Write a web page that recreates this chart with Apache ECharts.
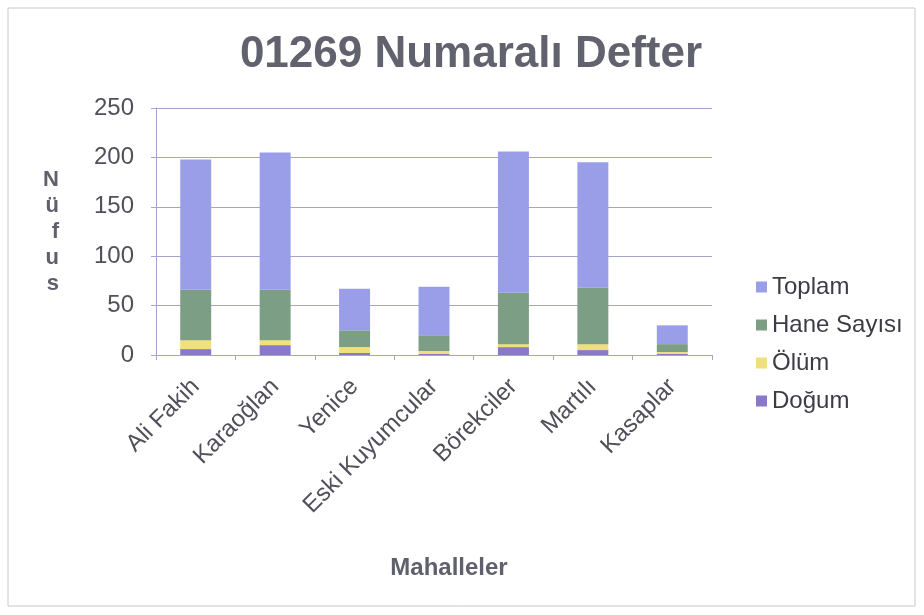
<!DOCTYPE html>
<html>
<head>
<meta charset="utf-8">
<script src="https://cdn.jsdelivr.net/npm/echarts@6/dist/echarts.min.js"></script>
<style>
  html, body { margin: 0; padding: 0; background: #fff; }
  #chart { width: 924px; height: 615px; }
</style>
</head>
<body>
<div id="chart"></div>
<script>
// Mahalle listesi ve seri değerleri
const mahalleler = ["Ali Fakih", "Karaoğlan", "Yenice", "Eski Kuyumcular", "Börekciler", "Martılı", "Kasaplar"];
const dogum = [6, 10, 2, 1, 8, 5, 1];
const olum = [9, 5, 6, 3, 3, 6, 2];
const haneSayisi = [51, 51, 17, 16, 52, 57, 8];
const toplam = [132, 139, 42, 49, 143, 127, 19];
const yTicks = [0, 50, 100, 150, 200, 250];

const axisColor = "#a4a4cc";
const font = "Liberation Sans, Arial, sans-serif";

const chart = echarts.init(document.getElementById("chart"));

function bar(name, data, color) {
  return {
    name: name,
    type: "bar",
    stack: "nufus",
    data: data,
    barWidth: "39%",
    itemStyle: { color: color },
  };
}

chart.setOption({
  animation: false,
  textStyle: { fontFamily: font },
  title: {
    text: "01269 Numaralı Defter",
    left: 466,
    top: 28,
    textAlign: "center",
    textStyle: { fontSize: 44, fontWeight: "bold", color: "#62626e", fontFamily: font },
  },
  graphic: [
    {
      type: "rect",
      shape: { x: 8, y: 8, width: 907, height: 598 },
      style: { fill: "none", stroke: "#c8c8c8", lineWidth: 1 },
    },
  ],
  legend: {
    orient: "vertical",
    left: 751,
    top: 269,
    itemWidth: 11,
    itemHeight: 11,
    itemGap: 12,
    icon: "rect",
    data: ["Toplam", "Hane Sayısı", "Ölüm", "Doğum"],
    textStyle: { fontSize: 24, color: "#3c3c46", fontFamily: font, lineHeight: 26 },
  },
  grid: { left: 156, right: 212, top: 108, bottom: 260 },
  xAxis: {
    type: "category",
    data: mahalleler,
    name: "Mahalleler",
    nameLocation: "middle",
    nameGap: 201,
    nameTextStyle: { fontSize: 24, fontWeight: "bold", color: "#60606c", fontFamily: font, padding: [0, 0, 0, 30] },
    axisLine: { lineStyle: { color: axisColor } },
    axisTick: { show: true, length: 5, lineStyle: { color: axisColor } },
    axisLabel: { rotate: 45, fontSize: 24, color: "#50505a", margin: 28, fontFamily: font },
  },
  yAxis: {
    type: "value",
    min: yTicks[0],
    max: yTicks[yTicks.length - 1],
    interval: 50,
    name: "N\nü\nf\nu\ns",
    nameLocation: "middle",
    nameRotate: 0,
    nameGap: 97,
    nameTextStyle: { fontSize: 22, fontWeight: "bold", color: "#60606c", lineHeight: 26, fontFamily: font, padding: [0, 0, 32, 0] },
    axisLine: { show: true, lineStyle: { color: axisColor } },
    axisTick: { show: true, length: 5, inside: false, lineStyle: { color: axisColor } },
    axisLabel: { fontSize: 24, color: "#50505a", margin: 22, fontFamily: font },
    splitLine: { lineStyle: { color: axisColor, width: 1 } },
  },
  series: [
    bar("Doğum", dogum, "#8a78c8"),
    bar("Ölüm", olum, "#efe07c"),
    bar("Hane Sayısı", haneSayisi, "#7c9e84"),
    bar("Toplam", toplam, "#9a9ee8"),
  ],
});
</script>
</body>
</html>
